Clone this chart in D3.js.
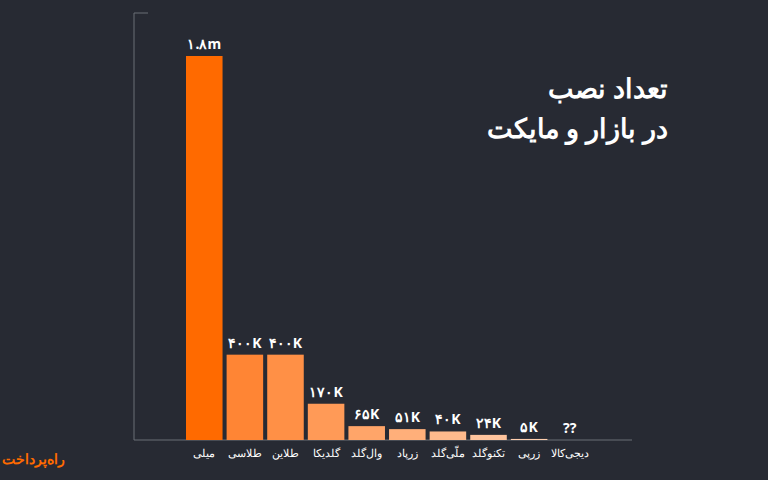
<!DOCTYPE html><html><head><meta charset="utf-8"><script src="https://cdn.jsdelivr.net/npm/d3@7"></script>
<style>body{margin:0;background:#272a33}</style></head><body><svg id="c" width="768" height="480"></svg>
<script>
const categories=["میلی","طلاسی","طلاین","گلدیکا","وال‌گلد","زرپاد","ملّی‌گلد","تکنوگلد","زرپی","دیجی‌کالا"];
const values=[1800000,400000,400000,170000,65000,51000,40000,24000,5000,0];
const valueLabels=["۱.۸m","۴۰۰K","۴۰۰K","۱۷۰K","۶۵K","۵۱K","۴۰K","۲۴K","۵K","??"];
const titleLines=["تعداد نصب","در بازار و مایکت"];
const svg=d3.select("#c");
svg.append("rect").attr("width",768).attr("height",480).attr("fill","#272a33");
const x=d3.scaleBand().domain(categories).range([186,588]).paddingInner(0.1).paddingOuter(0);
const y=d3.scaleLinear().domain([0,1800000]).range([440,56]);
const col=d3.scaleLinear().domain([0,1,9]).range(["#ff6a00","#ff8534","#ffd9c0"]);
svg.append("path").attr("d","M148,13H134V440H632").attr("fill","none").attr("stroke","#6b6e76").attr("stroke-width",1);
svg.selectAll(".b").data(values).join("rect").attr("x",(d,i)=>x(categories[i])).attr("width",x.bandwidth())
 .attr("y",d=>y(d)).attr("height",d=>440-y(d)).attr("fill",(d,i)=>col(i));
svg.selectAll(".v").data(values).join("text").attr("x",(d,i)=>x(categories[i])+x.bandwidth()/2).attr("y",d=>y(d)-7)
 .attr("text-anchor","middle").attr("fill","#fff").attr("font-family","'Noto Sans',sans-serif").attr("font-size",14).attr("font-weight","bold")
 .attr("direction","ltr").text((d,i)=>valueLabels[i]);
svg.selectAll(".c").data(categories).join("text").attr("x",d=>x(d)+x.bandwidth()/2).attr("y",457)
 .attr("text-anchor","middle").attr("fill","#fff").attr("font-family","'Noto Sans',sans-serif").attr("font-size",11).text(d=>d);
svg.selectAll(".t").data(titleLines).join("text").attr("x",668).attr("y",(d,i)=>98+i*40).attr("text-anchor","start")
 .attr("direction","rtl").attr("fill","#fff").attr("font-family","'Noto Sans',sans-serif").attr("font-weight","bold").attr("font-size",27).text(d=>d);
svg.append("text").attr("x",33).attr("y",464).attr("text-anchor","middle").attr("fill","#ff6a00")
 .attr("font-family","'Noto Sans',sans-serif").attr("font-weight","bold").attr("font-size",14).text("راه‌پرداخت");
</script></body></html>
